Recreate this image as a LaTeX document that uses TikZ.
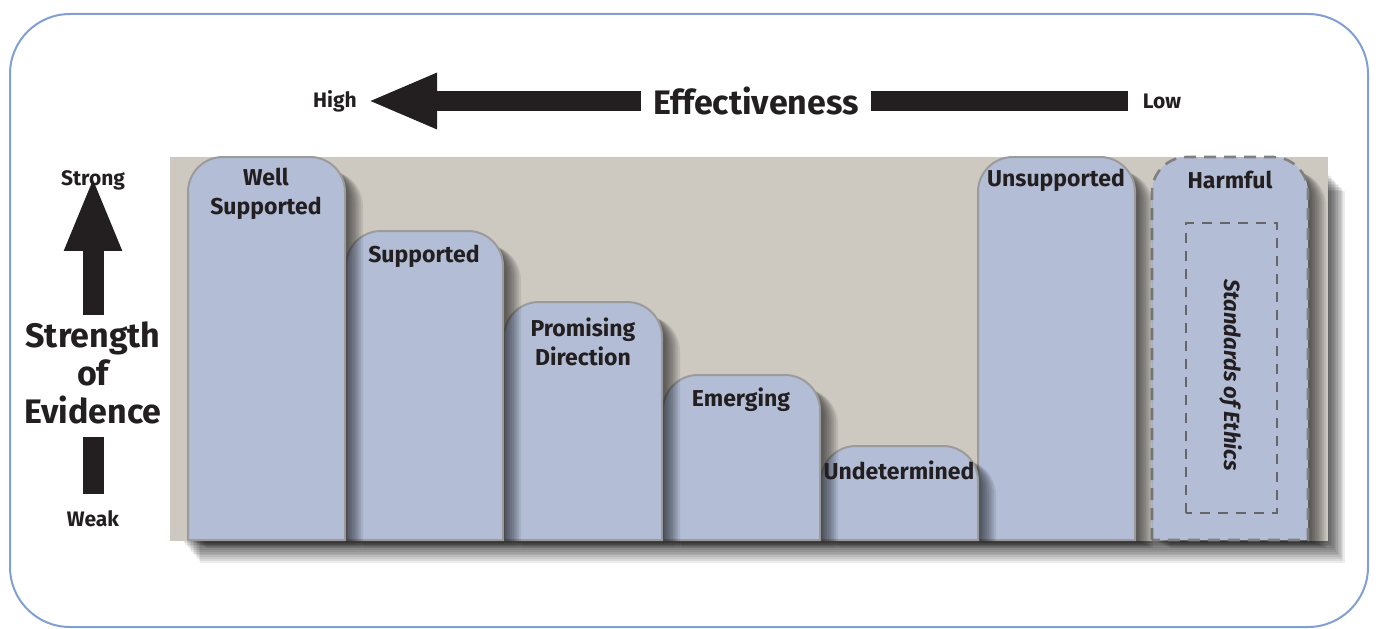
\documentclass[tikz,border=0pt]{standalone}
\usepackage{fontspec}
\setmainfont{Fira Sans}
\usetikzlibrary{positioning,arrows.meta}

\definecolor{ink}{HTML}{231F20}
\definecolor{framecol}{HTML}{829FD4}
\definecolor{panelcol}{HTML}{CDC9C1}
\definecolor{barcol}{HTML}{B3BED6}
\definecolor{edgecol}{HTML}{9B9B9B}

\begin{document}
\begin{tikzpicture}[
        x=0.5pt, y=0.5pt,
        evbar/.style n args={3}{
            insert path={(#1,88) -- (#1,#3-35) arc[start angle=180,end angle=90,radius=17.5pt]
                -- (#2-35,#3) arc[start angle=90,end angle=0,radius=17.5pt] -- (#2,88) -- cycle}
        },
        bar/.style={fill=barcol, draw=edgecol, line width=1pt},
        lbl/.style={font=\fontsize{11.5}{14.5}\selectfont\bfseries, text=ink, align=center, inner sep=0pt},
        endlbl/.style={font=\fontsize{10.5}{12}\selectfont\bfseries, text=ink, inner sep=0pt},
        biglbl/.style={font=\fontsize{17}{19}\selectfont\bfseries, text=ink, align=center, inner sep=0pt},
    ]
    \useasboundingbox (0,0) rectangle (1376,628);
    \draw[framecol, line width=1pt, rounded corners=30pt] (10,1) rectangle (1368,614);

    % panel and its shadow
    \foreach \k in {1,...,12}
        \fill[black, opacity=0.075] (182+\k*1.5,87-\k*1.8) rectangle (1328+\k*1.4,455-\k*1.5);
    \fill[panelcol] (170,87) rectangle (1328,471);

    % harmful
    \foreach \k in {1,...,10}
        \fill[black, opacity=0.08, shift={(\k*1.8,-\k*0.8)}] [evbar={1152}{1308}{465}];
    \filldraw[bar, draw=gray, line width=1.3pt, dash pattern=on 6pt off 4pt] [evbar={1152}{1308}{471}];
    \draw[gray!80!black, line width=1.2pt, dash pattern=on 5pt off 4pt] (1186,115) rectangle (1277,405);

    % bars, right to left
    \foreach \xa/\xb/\ytop in {978/1135/471, 821/978/182, 663/820/253, 504/662/326, 346/503/397, 188/345/471} {
        \foreach \k in {1,...,10}
            \fill[black, opacity=0.08, shift={(\k*1.8,-\k*0.8)}] [evbar={\xa}{\xb}{\ytop-6}];
        \filldraw[bar] [evbar={\xa}{\xb}{\ytop}];
    }

    \node[lbl] (wellsup) at (266,434) {Well\\Supported};
    \node[lbl] (sup) at (424,372) {Supported};
    \node[lbl] (prom) at (583,286) {Promising\\Direction};
    \node[lbl] (emerg) at (741,228) {Emerging};
    \node[lbl] (undet) at (899,158) {Undetermined};
    \node[lbl] (unsup) at (1056,448) {Unsupported};
    \node[lbl] (harm) at (1230,448) {Harmful};
    \node[lbl, rotate=-90, font=\fontsize{11}{13}\selectfont\bfseries\itshape] (ethics) at (1231,253) {Standards of Ethics};

    % effectiveness axis
    \node[endlbl] (high) at (335,527) {High};
    \node[endlbl] (low) at (1162,527) {Low};
    \node[biglbl] (eff) at (756,527) {Effectiveness};
    \draw[ink, line width=10pt, -{Triangle[length=35pt,width=25.5pt]}] ([xshift=-6pt]eff.west) -- ([xshift=5pt]high.east);
    \draw[ink, line width=10pt] ([xshift=6pt]eff.east) -- ([xshift=-7pt]low.west);

    % evidence axis
    \node[endlbl] (strong) at (93,448) {Strong};
    \node[endlbl] (weak) at (93,109) {Weak};
    \node[biglbl] (evid) at (93,255) {Strength\\of\\Evidence};
    \draw[ink, line width=10.5pt, -{Triangle[length=37.5pt,width=26pt]}] ([yshift=3pt]evid.north) -- ([yshift=-3pt]strong.north);
    \draw[ink, line width=10.5pt] ([yshift=-6pt]evid.south) -- ([yshift=8pt]weak.north);
\end{tikzpicture}
\end{document}
